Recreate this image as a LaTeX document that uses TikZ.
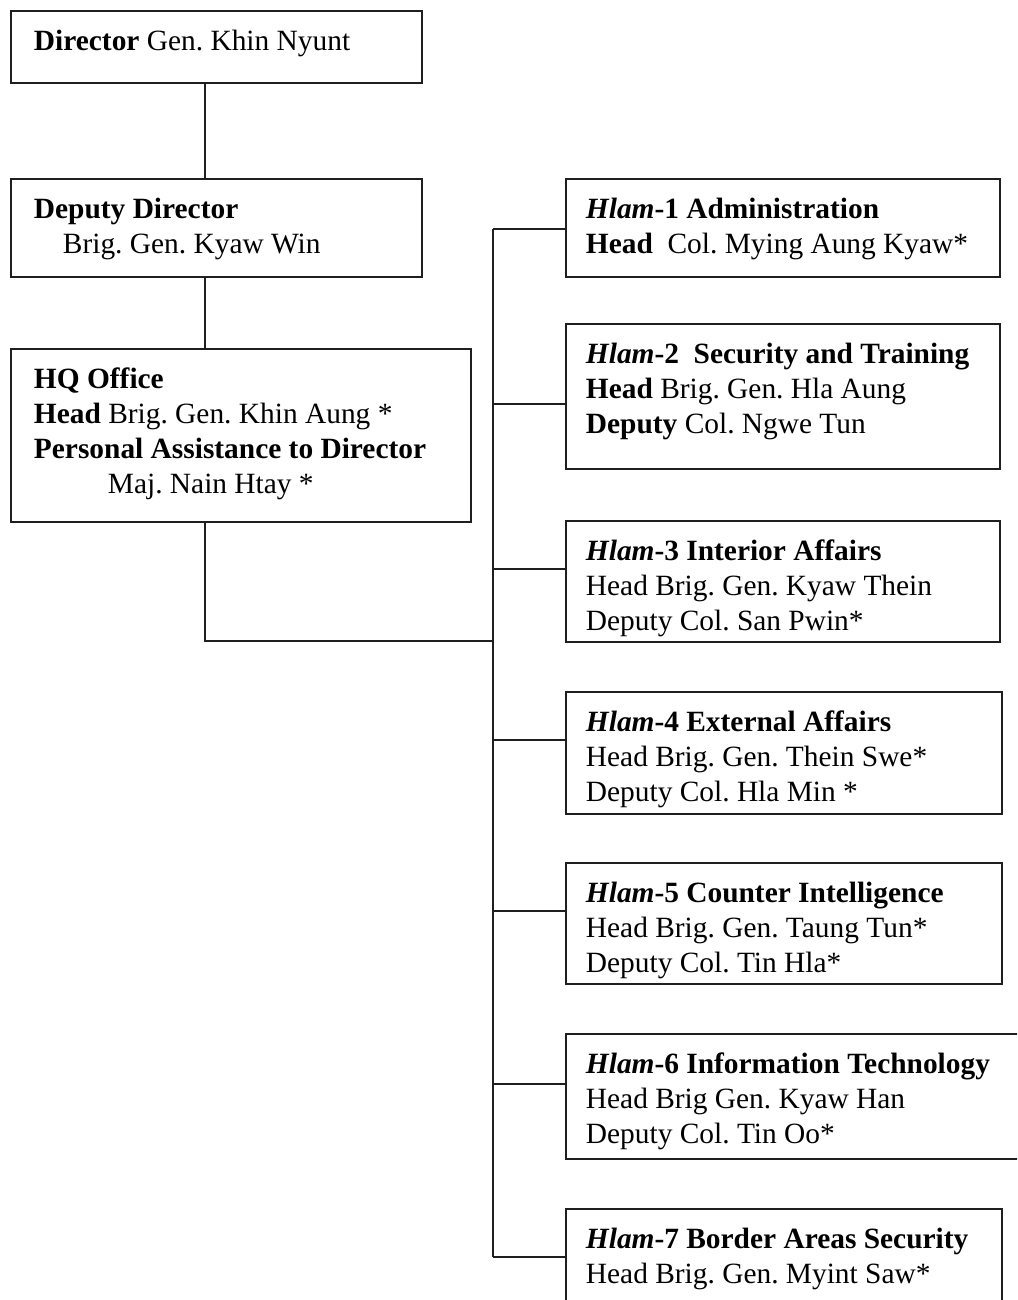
\documentclass[tikz,border=0pt]{standalone}
\usepackage{fontspec}
\setmainfont{Liberation Serif}
\frenchspacing

% text block inside a unit box: width, height, left inset, lines
\newcommand\unittext[4]{%
  \parbox[c][#2][t]{#1}{\vspace*{7.5pt}\leftskip=#3\relax\rightskip=0pt plus 1fil\relax
  \parindent=0pt\strut#4}}

\tikzset{
  unit/.style={draw=black!88, line width=0.95pt, anchor=north west, inner sep=0pt,
    font=\fontsize{14.7}{17.5}\selectfont},
  link/.style={draw=black!88, line width=0.95pt}
}

\begin{document}
\begin{tikzpicture}[x=0.5pt,y=-0.5pt]
  \path[use as bounding box] (0,0) rectangle (1017,1300);
  \clip (0,0) rectangle (1017,1300);
  \fill[white] (0,0) rectangle (1017,1300);

  % left column
  \node[unit] (dir) at (10,10)
    {\unittext{205.5pt}{36pt}{11.5pt}{\textbf{Director} Gen. Khin Nyunt}};
  \node[unit] (dep) at (10,178)
    {\unittext{205.5pt}{49pt}{11.5pt}{\textbf{Deputy Director}\\
      \hspace*{14.5pt}Brig. Gen. Kyaw Win}};
  \node[unit] (hq) at (10,348)
    {\unittext{230pt}{86.5pt}{11.5pt}{\textbf{HQ Office}\\
      \textbf{Head} Brig. Gen. Khin Aung *\\
      \textbf{Personal Assistance to Director}\\
      \hspace*{37pt}Maj. Nain Htay *}};

  % right column: the seven Hlam departments
  \node[unit] (h1) at (565,178)
    {\unittext{217pt}{49pt}{10pt}{\textbf{\textit{Hlam}-1 Administration}\\
      \textbf{Head}\ \ Col. Mying Aung Kyaw*}};
  \node[unit] (h2) at (565,323)
    {\unittext{217pt}{72.5pt}{10pt}{\textbf{\textit{Hlam}-2\ \ Security and Training}\\
      \textbf{Head} Brig. Gen. Hla Aung\\
      \textbf{Deputy} Col. Ngwe Tun}};
  \node[unit] (h3) at (565,520)
    {\unittext{217pt}{60.5pt}{10pt}{\textbf{\textit{Hlam}-3 Interior Affairs}\\
      Head Brig. Gen. Kyaw Thein\\
      Deputy Col. San Pwin*}};
  \node[unit] (h4) at (565,691)
    {\unittext{218pt}{61pt}{10pt}{\textbf{\textit{Hlam}-4 External Affairs}\\
      Head Brig. Gen. Thein Swe*\\
      Deputy Col. Hla Min *}};
  \node[unit] (h5) at (565,862)
    {\unittext{218pt}{60.5pt}{10pt}{\textbf{\textit{Hlam}-5 Counter Intelligence}\\
      Head Brig. Gen. Taung Tun*\\
      Deputy Col. Tin Hla*}};
  \node[unit] (h6) at (565,1033)
    {\unittext{235pt}{62.5pt}{10pt}{\textbf{\textit{Hlam}-6 Information Technology}\\
      Head Brig Gen. Kyaw Han\\
      Deputy Col. Tin Oo*}};
  \node[unit] (h7) at (565,1208)
    {\unittext{218pt}{65pt}{10pt}{\textbf{\textit{Hlam}-7 Border Areas Security}\\
      Head Brig. Gen. Myint Saw*}};

  % reference lines for the two vertical runs
  \coordinate (spine) at (205,0);
  \coordinate (trunk) at (493,0);
  \coordinate (join) at (493,641);

  % chain of command on the left
  \draw[link] (dir.south -| spine) -- (dep.north -| spine);
  \draw[link] (dep.south -| spine) -- (hq.north -| spine);
  \draw[link] (hq.south -| spine) |- (join);

  % branches to the departments
  \draw[link] (h1.north west) ++(0,51) coordinate (t1) -- (t1 -| trunk);
  \draw[link] (h2.north west) ++(0,81) coordinate (t2) -- (t2 -| trunk);
  \draw[link] (h3.north west) ++(0,49) coordinate (t3) -- (t3 -| trunk);
  \draw[link] (h4.north west) ++(0,49) coordinate (t4) -- (t4 -| trunk);
  \draw[link] (h5.north west) ++(0,49) coordinate (t5) -- (t5 -| trunk);
  \draw[link] (h6.north west) ++(0,51) coordinate (t6) -- (t6 -| trunk);
  \draw[link] (h7.north west) ++(0,49) coordinate (t7) -- (t7 -| trunk);
  \draw[link] (t1 -| trunk) -- (t7 -| trunk);
\end{tikzpicture}
\end{document}
